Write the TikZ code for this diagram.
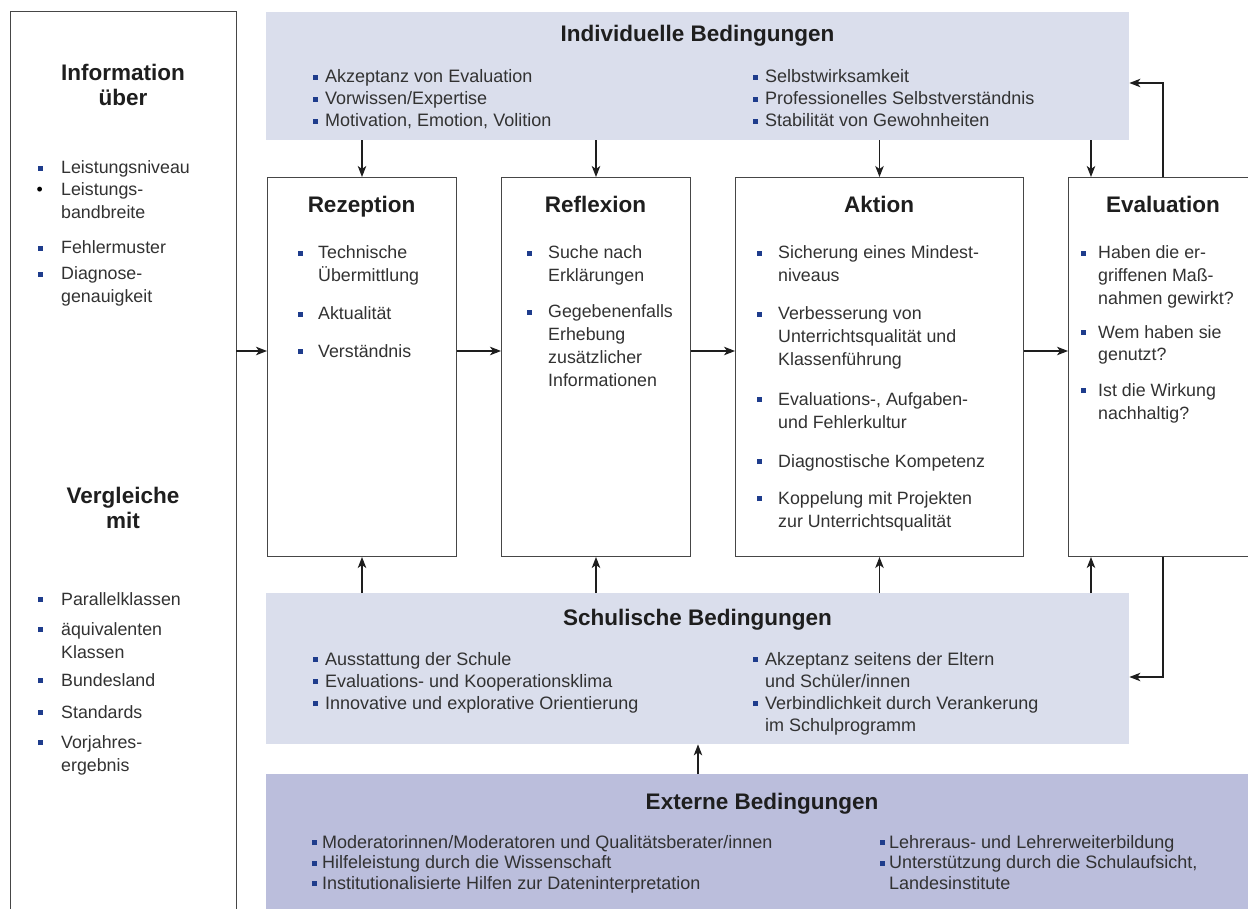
\documentclass[tikz,border=0pt]{standalone}
\usepackage{fontspec}
\setmainfont{Liberation Sans}
\usetikzlibrary{arrows.meta}
\definecolor{lightbox}{RGB}{218,222,236}
\definecolor{extbox}{RGB}{187,190,220}
\definecolor{bblue}{RGB}{30,60,140}
\definecolor{txt}{RGB}{50,50,50}
\definecolor{ttl}{RGB}{30,30,30}
\definecolor{lin}{RGB}{70,70,70}
\newcommand{\bsq}{\textcolor{bblue}{\rule[3pt]{5pt}{5pt}}}
% style, name, bullet x, text x, baseline y, text
\newcommand{\bitem}[6]{%
  \node[anchor=base west, inner sep=0] (#2b) at (#3,#5) {\bsq};
  \node[#1, anchor=base west] (#2) at (#4,#5) {\parbox[t]{520pt}{\raggedright #6}};}
\begin{document}
\begin{tikzpicture}[x=1pt,y=-1pt,
  body/.style={font=\fontsize{17.8}{23}\selectfont, text=txt, inner sep=0},
  topl/.style={font=\fontsize{18}{22}\selectfont, text=txt, inner sep=0},
  extl/.style={font=\fontsize{18}{20.5}\selectfont, text=txt, inner sep=0},
  ttlf/.style={font=\bfseries\fontsize{22.5}{25}\selectfont, text=ttl, inner sep=0, anchor=base},
  pbox/.style={draw=lin, line width=1pt, fill=white, anchor=north west, inner sep=0},
  lbox/.style={fill=lightbox, anchor=north west, inner sep=0},
  ebox/.style={fill=extbox, anchor=north west, inner sep=0},
  arr/.style={-{Stealth[length=11pt,width=8.5pt,inset=3pt]}, draw=ttl, line width=1.1pt}]
\useasboundingbox (0,0) rectangle (1248,909);
\fill[white] (0,0) rectangle (1248,909);

% left panel
\node[anchor=north west, minimum width=226pt, minimum height=905pt, inner sep=0] (lp) at (10,12) {};
\draw[lin, line width=1pt] (lp.south west) -- (lp.north west) -- (lp.north east) -- (lp.south east);

% boxes
\node[lbox, minimum width=863pt, minimum height=128pt] (ind) at (266,12) {};
\node[pbox, minimum width=189pt, minimum height=379pt] (rez) at (267,177) {};
\node[pbox, minimum width=189pt, minimum height=379pt] (ref) at (501,177) {};
\node[pbox, minimum width=288pt, minimum height=379pt] (akt) at (735,177) {};
\node[pbox, minimum width=200pt, minimum height=379pt] (eva) at (1068,177) {};
\node[lbox, minimum width=863pt, minimum height=151pt] (sch) at (266,593) {};
\node[ebox, minimum width=1000pt, minimum height=140pt] (ext) at (266,774) {};

% helper coordinates
\coordinate (hy) at (0,351);
\coordinate (ex) at (1091,0);
\coordinate (fx) at (1163,0);
\coordinate (fy1) at (0,83);
\coordinate (fy2) at (0,677);
\coordinate (mx) at (698,0);

% arrows
\draw[arr] (lp.east |- hy) -- (rez.west |- hy);
\draw[arr] (rez.east |- hy) -- (ref.west |- hy);
\draw[arr] (ref.east |- hy) -- (akt.west |- hy);
\draw[arr] (akt.east |- hy) -- (eva.west |- hy);
\draw[arr] (ind.south -| rez.north) -- (rez.north);
\draw[arr] (ind.south -| ref.north) -- (ref.north);
\draw[arr] (ind.south -| akt.north) -- (akt.north);
\draw[arr] (ind.south -| ex) -- (eva.north -| ex);
\draw[arr] (sch.north -| rez.south) -- (rez.south);
\draw[arr] (sch.north -| ref.south) -- (ref.south);
\draw[arr] (sch.north -| akt.south) -- (akt.south);
\draw[arr] (sch.north -| ex) -- (eva.south -| ex);
\draw[arr] (eva.north -| fx) |- (ind.east |- fy1);
\draw[arr] (eva.south -| fx) |- (sch.east |- fy2);
\draw[arr] (ext.north -| mx) -- (sch.south -| mx);

% titles
\node[ttlf] (tinfo) at (123,81) {\parbox[t]{220pt}{\centering Information\\über}};
\node[ttlf] (tverg) at (123,503) {\parbox[t]{220pt}{\centering Vergleiche\\mit}};
\node[ttlf] (tind) at (697.5,42) {Individuelle Bedingungen};
\node[ttlf] (trez) at (361.5,213) {Rezeption};
\node[ttlf] (tref) at (595.5,213) {Reflexion};
\node[ttlf] (takt) at (879,213) {Aktion};
\node[ttlf] (teva) at (1163,213) {Evaluation};
\node[ttlf] (tsch) at (697.5,625) {Schulische Bedingungen};
\node[ttlf] (text) at (762,809) {Externe Bedingungen};

% left panel items
\bitem{body}{la}{38}{61}{174}{Leistungsniveau}
\node[anchor=base west, inner sep=0, font=\fontsize{17.8}{23}\selectfont] (lbb) at (36.5,196) {•};
\node[body, anchor=base west] (lb) at (61,196) {\parbox[t]{160pt}{\raggedright Leistungs-\\bandbreite}};
\bitem{body}{lc}{38}{61}{254}{Fehlermuster}
\bitem{body}{ld}{38}{61}{280}{Diagnose-\\genauigkeit}
\bitem{body}{le}{38}{61}{605}{Parallelklassen}
\bitem{body}{lf}{38}{61}{635}{äquivalenten\\Klassen}
\bitem{body}{lg}{38}{61}{686}{Bundesland}
\bitem{body}{lh}{38}{61}{718}{Standards}
\bitem{body}{li}{38}{61}{748}{Vorjahres-\\ergebnis}

% individuelle
\bitem{topl}{ia}{313}{325}{83}{Akzeptanz von Evaluation}
\bitem{topl}{ib}{313}{325}{105}{Vorwissen/Expertise}
\bitem{topl}{ic}{313}{325}{127}{Motivation, Emotion, Volition}
\bitem{topl}{id}{753}{765}{83}{Selbstwirksamkeit}
\bitem{topl}{ie}{753}{765}{105}{Professionelles Selbstverständnis}
\bitem{topl}{if}{753}{765}{127}{Stabilität von Gewohnheiten}

% rezeption
\bitem{body}{ra}{298}{318}{259}{Technische\\Übermittlung}
\bitem{body}{rb}{298}{318}{320}{Aktualität}
\bitem{body}{rc}{298}{318}{357}{Verständnis}

% reflexion
\bitem{body}{fa}{527}{548}{259}{Suche nach\\Erklärungen}
\bitem{body}{fb}{527}{548}{318}{Gegebenenfalls\\Erhebung\\zusätzlicher\\Informationen}

% aktion
\bitem{body}{aa}{757}{778}{259}{Sicherung eines Mindest-\\niveaus}
\bitem{body}{ab}{757}{778}{320}{Verbesserung von\\Unterrichtsqualität und\\Klassenführung}
\bitem{body}{ac}{757}{778}{405}{Evaluations-, Aufgaben-\\und Fehlerkultur}
\bitem{body}{ad}{757}{778}{467}{Diagnostische Kompetenz}
\bitem{body}{ae}{757}{778}{504}{Koppelung mit Projekten\\zur Unterrichtsqualität}

% evaluation
\bitem{body}{ea}{1081}{1098}{259}{Haben die er-\\griffenen Maß-\\nahmen gewirkt?}
\bitem{body}{eb}{1081}{1098}{338}{Wem haben sie\\genutzt?}
\bitem{body}{ec}{1081}{1098}{396}{Ist die Wirkung\\nachhaltig?}

% schulische
\bitem{topl}{sa}{313}{325}{665}{Ausstattung der Schule}
\bitem{topl}{sb}{313}{325}{687}{Evaluations- und Kooperationsklima}
\bitem{topl}{sc}{313}{325}{709}{Innovative und explorative Orientierung}
\bitem{topl}{sd}{753}{765}{665}{Akzeptanz seitens der Eltern\\und Schüler/innen}
\bitem{topl}{se}{753}{765}{709}{Verbindlichkeit durch Verankerung\\im Schulprogramm}

% externe
\bitem{extl}{xa}{312}{322}{848}{Moderatorinnen/Moderatoren und Qualitätsberater/innen}
\bitem{extl}{xb}{312}{322}{868.5}{Hilfeleistung durch die Wissenschaft}
\bitem{extl}{xc}{312}{322}{889}{Institutionalisierte Hilfen zur Dateninterpretation}
\bitem{extl}{xd}{880}{889}{848}{Lehreraus- und Lehrerweiterbildung}
\bitem{extl}{xe}{880}{889}{868.5}{Unterstützung durch die Schulaufsicht,\\Landesinstitute}
\end{tikzpicture}
\end{document}
